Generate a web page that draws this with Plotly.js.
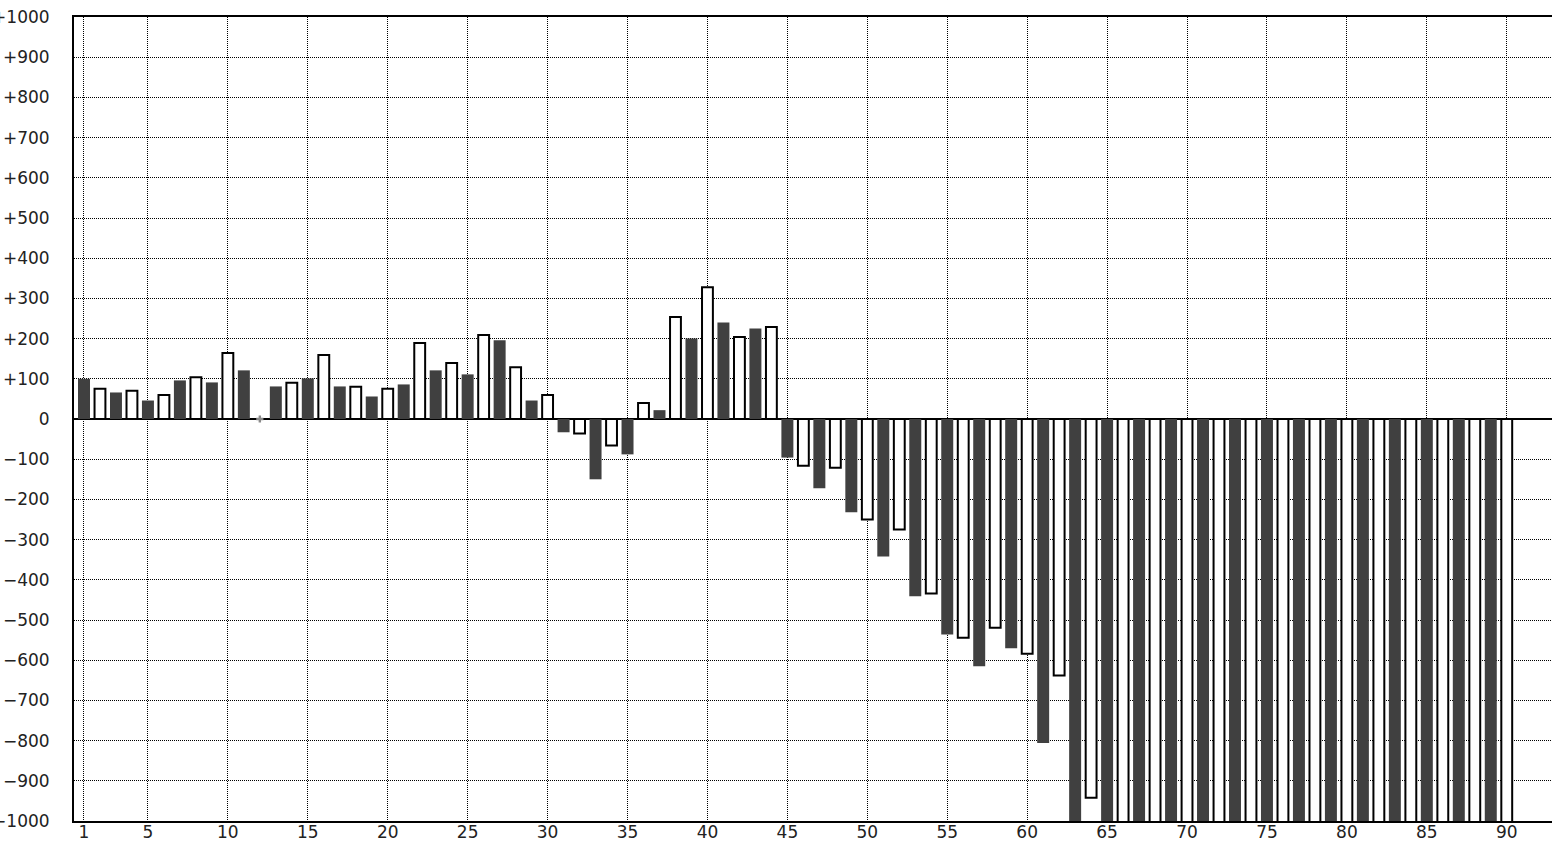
<!DOCTYPE html>
<html>
<head>
<meta charset="utf-8">
<script src="https://cdn.plot.ly/plotly-3.0.1.min.js"></script>
<style>html,body{margin:0;padding:0;background:#fff;}#chart{width:1552px;height:842px;}</style>
</head>
<body>
<div id="chart"></div>
<script>
// Dark (odd-numbered) bars
const darkX = [1,3,5,7,9,11,13,15,17,19,21,23,25,27,29,31,33,35,37,39,41,43,45,47,49,51,53,55,57,59,61,63,65,67,69,71,73,75,77,79,81,83,85,87,89];
const darkY = [100,66,46,96,91,121,81,101,81,56,86,121,111,196,46,-33,-150,-88,22,200,240,225,-96,-172,-232,-342,-441,-536,-615,-570,-806,-1100,-1100,-1100,-1100,-1100,-1100,-1100,-1100,-1100,-1100,-1100,-1100,-1100,-1100];
// White (even-numbered) bars
const whiteX = [2,4,6,8,10,12,14,16,18,20,22,24,26,28,30,32,34,36,38,40,42,44,46,48,50,52,54,56,58,60,62,64,66,68,70,72,74,76,78,80,82,84,86,88,90];
const whiteY = [75,70,60,104,164,0,90,159,80,75,189,139,209,129,60,-36,-66,40,254,328,204,229,-116,-121,-250,-275,-434,-544,-519,-584,-638,-942,-1100,-1100,-1100,-1100,-1100,-1100,-1100,-1100,-1100,-1100,-1100,-1100,-1100];
// Small grey marker at a zero value
const markX = [12];
const markY = [0];
// Tick labels
const xTickVals = [1,5,10,15,20,25,30,35,40,45,50,55,60,65,70,75,80,85,90];
const yTickVals = [1000,900,800,700,600,500,400,300,200,100,0,-100,-200,-300,-400,-500,-600,-700,-800,-900,-1000];
const yTickText = ['+1000','+900','+800','+700','+600','+500','+400','+300','+200','+100','0','\u2212100','\u2212200','\u2212300','\u2212400','\u2212500','\u2212600','\u2212700','\u2212800','\u2212900','\u22121000'];

const traces = [
  {type:'bar', x: darkX, y: darkY, width: 0.75, marker:{color:'#404040', line:{width:0}}, hoverinfo:'x+y'},
  {type:'bar', x: whiteX, y: whiteY, width: 0.68, marker:{color:'#ffffff', line:{color:'#000000', width:2}}, hoverinfo:'x+y'},
  {type:'scatter', mode:'markers', x: markX, y: markY, marker:{symbol:'cross', size:6, color:'#8a8a8a'}, hoverinfo:'skip'}
];

const tickFont = {family:'DejaVu Sans, Verdana, sans-serif', size:17, color:'#222'};
const layout = {
  width:1552, height:842,
  margin:{l:74, r:0, t:17, b:21, pad:0},
  paper_bgcolor:'#ffffff', plot_bgcolor:'#ffffff',
  showlegend:false,
  barmode:'overlay',
  xaxis:{
    range:[0.375, 92.83], tickmode:'array', tickvals:xTickVals,
    showgrid:true, gridcolor:'#000000', gridwidth:1, griddash:'1px,1px',
    showline:true, linecolor:'#000000', linewidth:2, mirror:true,
    zeroline:false, ticks:'', tickfont:tickFont, ticklabelstandoff:-5, automargin:false, fixedrange:true
  },
  yaxis:{
    range:[-1000, 1000], tickmode:'array', tickvals:yTickVals, ticktext:yTickText,
    showgrid:true, gridcolor:'#000000', gridwidth:1, griddash:'1px,1px',
    showline:true, linecolor:'#000000', linewidth:2,
    zeroline:true, zerolinecolor:'#000000', zerolinewidth:1.5,
    ticks:'', tickfont:tickFont, ticklabelstandoff:19, automargin:false, fixedrange:true
  }
};
Plotly.newPlot('chart', traces, layout, {displayModeBar:false, staticPlot:true});
</script>
</body>
</html>
